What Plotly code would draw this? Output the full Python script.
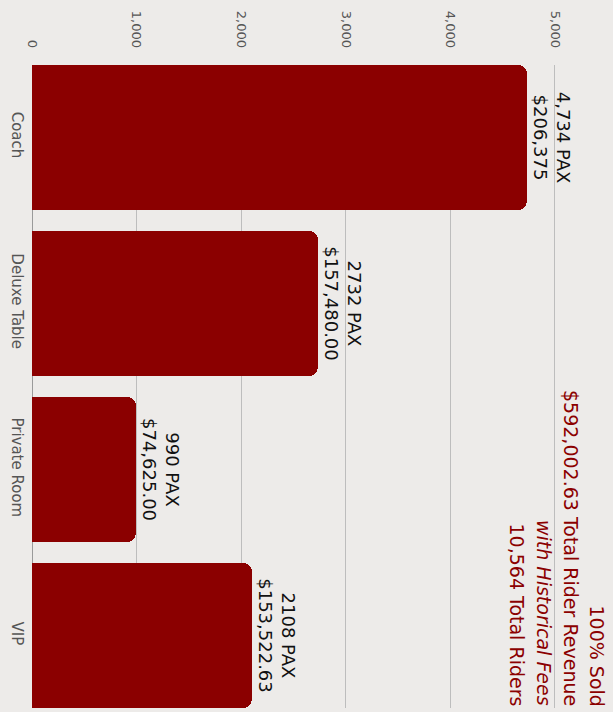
import plotly.graph_objects as go

categories = ["Coach", "Deluxe Table", "Private Room", "VIP"]
pax = [4734, 2732, 990, 2108]
pax_labels = ["4,734 PAX", "2732 PAX", "990 PAX", "2108 PAX"]
revenue_labels = ["$206,375", "$157,480.00", "$74,625.00", "$153,522.63"]
tick_vals = [0, 1000, 2000, 3000, 4000, 5000]
tick_text = ["0", "1,000", "2,000", "3,000", "4,000", "5,000"]
summary_lines = ["100% Sold", "$592,002.63 Total Rider Revenue",
                 "<i>with Historical Fees</i>", "10,564 Total Riders"]

BG = "#EDEBE9"
RED = "#8B0000"
FONT = "DejaVu Sans"

W, H = 613, 712
ML, MR, MT, MB = 32, 0, 65, 4

bar_text = [f"{p}<br>{r}" for p, r in zip(pax_labels, revenue_labels)]

fig = go.Figure()
fig.add_trace(go.Bar(
    y=categories, x=pax, orientation="h",
    marker=dict(color=RED, cornerradius=9, line=dict(width=0)),
    width=0.87,
    text=bar_text, textposition="outside", textangle=90,
    textfont=dict(family=FONT, size=18, color="#111111"),
    cliponaxis=False, hoverinfo="skip",
))

# summary text lines (rotated), stacked right to left
line_px = [597, 571, 544, 517]
for txt, px in zip(summary_lines, line_px):
    fig.add_annotation(
        xref="paper", yref="paper", x=(px - ML) / (W - ML - MR), y=0.0,
        xanchor="center", yanchor="bottom",
        text=txt, textangle=90, showarrow=False,
        font=dict(family=FONT, size=19, color=RED),
    )

fig.update_layout(
    width=W, height=H,
    margin=dict(l=ML, r=MR, t=MT, b=MB),
    paper_bgcolor=BG, plot_bgcolor=BG,
    showlegend=False, bargap=0,
    font=dict(family=FONT),
)
fig.update_xaxes(
    side="top", range=[0, 5555], tickvals=tick_vals, ticktext=tick_text,
    tickangle=90, tickfont=dict(family=FONT, size=13, color="#555555"),
    ticklabelstandoff=14,
    showgrid=True, gridcolor="#BDBDBD", gridwidth=1,
    zeroline=True, zerolinecolor="#9a9a9a", zerolinewidth=1,
    ticks="", showline=False,
)
fig.update_yaxes(
    autorange=False, range=[3.435, -0.435],
    tickangle=90, tickfont=dict(family=FONT, size=15, color="#555555"),
    ticklabelstandoff=4,
    showgrid=False, ticks="", showline=False,
)

fig.write_html(
    "out.html",
    config={"displayModeBar": False},
    post_script="document.body.style.margin='0';document.body.style.background='%s';" % BG,
)
